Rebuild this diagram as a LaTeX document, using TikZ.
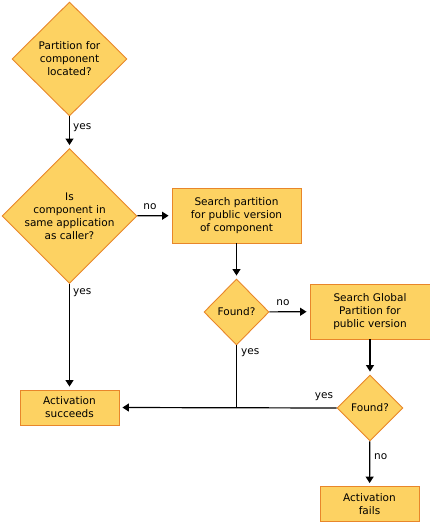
\documentclass[tikz,border=0pt]{standalone}
\usepackage{fontspec}
\setmainfont{DejaVu Sans}
\usetikzlibrary{arrows.meta,shapes.geometric}
\definecolor{boxfill}{HTML}{FDD262}
\definecolor{boxline}{HTML}{E8862A}

\begin{document}
\begin{tikzpicture}[x=1pt,y=-1pt,
every node/.style={font=\fontsize{10.5}{13}\selectfont,align=center,inner sep=0pt},
decision/.style={diamond,draw=boxline,fill=boxfill,line width=0.9pt,aspect=1},
block/.style={rectangle,draw=boxline,fill=boxfill,line width=0.9pt},
flow/.style={draw=black,line width=1.2pt,-{Triangle[length=6.5pt,width=8pt]},shorten >=3pt}]
\useasboundingbox (0,0) rectangle (430,523);

\node[decision,minimum width=115pt,minimum height=114pt] (part) at (69.5,59) {Partition for\\component\\located?};
\node[decision,minimum width=135pt,minimum height=135pt,inner sep=-10pt] (same) at (69.5,216) {Is\\component in\\same application\\as caller?};
\node[block,minimum width=129pt,minimum height=55pt] (search) at (236.5,215.5) {Search partition\\for public version\\of component};
\node[decision,minimum width=65pt,minimum height=66pt] (found1) at (236.5,312) {Found?};
\node[block,minimum width=120pt,minimum height=55pt] (global) at (370,311.5) {Search Global\\Partition for\\public version};
\node[decision,minimum width=66pt,minimum height=66pt] (found2) at (370,408) {Found?};
\node[block,minimum width=99pt,minimum height=35pt] (ok) at (69.5,407.5) {Activation\\succeeds};
\node[block,minimum width=99pt,minimum height=35pt] (fail) at (369.5,504) {Activation\\fails};
\coordinate (join) at (found1.south |- found2.west);

% connectors
\draw[flow] (part) -- (same);
\draw[flow] (same) -- (search);
\draw[flow] (search) -- (found1);
\draw[flow] (found1) -- (global);
\draw[flow] (global) -- (found2);
\draw[flow] (found2) -- (fail);
\draw[flow] (same) -- (ok);
\draw[flow] (found2.west) -- (ok.east);
\draw[draw=black,line width=1.2pt] (found1.south) -- (join);

% labels
\node[anchor=west] (l1) at (73,128) {yes};
\node (l2) at (150,207) {no};
\node[anchor=west] (l3) at (73,293) {yes};
\node (l4) at (283,303) {no};
\node[anchor=west] (l5) at (241,353) {yes};
\node (l6) at (324,397) {yes};
\node[anchor=west] (l7) at (374,457) {no};
\end{tikzpicture}
\end{document}
